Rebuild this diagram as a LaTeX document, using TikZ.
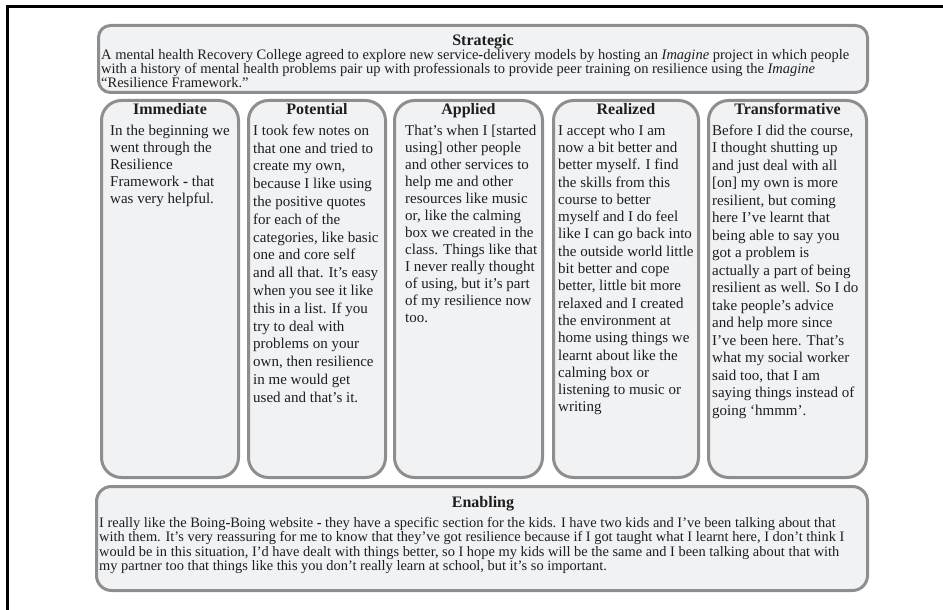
\documentclass[tikz,border=0pt]{standalone}
\usepackage{fontspec}
\setmainfont{Liberation Serif}
\usetikzlibrary{positioning}
\definecolor{ink}{HTML}{1E1E1E}
\definecolor{bord}{HTML}{8E8E8E}
\definecolor{boxf}{HTML}{F1F2F4}
\tikzset{
  pnl/.style={draw=bord,fill=boxf,line width=3pt,inner sep=0pt},
  colbox/.style={pnl,rounded corners=20pt,minimum height=377pt},
  head/.style={font=\fontsize{16}{18}\selectfont\bfseries,inner sep=0pt,anchor=base,text=ink},
  body/.style={font=\fontsize{15}{17}\selectfont,align=left,inner sep=0pt,anchor=north west,text=ink},
  wide/.style={body,font=\fontsize{14.5}{14}\selectfont}
}
\newcommand{\bdash}{{\bfseries -}}

\begin{document}
\begin{tikzpicture}[x=1pt,y=-1pt]
\useasboundingbox (0,0) rectangle (943,610);
% ---------------- frame ----------------
\draw[line width=3pt,black] (7,610) -- (7,7) -- (943,7);
% ---------------- strategic ----------------
\node[pnl,rounded corners=12pt,minimum width=769pt,minimum height=67pt] (strat) at (483,59) {};
\node[head] (strath) at (483,46) {Strategic};
\node[wide] (stratt) at (101,49) {A mental health Recovery College agreed to explore new service\bdash delivery models by hosting an \textit{Imagine} project in which people\\
with a history of mental health problems pair up with professionals to provide peer training on resilience using the \textit{Imagine}\\
“Resilience Framework.”};
% ---------------- columns ----------------
\node[colbox,minimum width=137pt] (imm) at (170,289) {};
\node[colbox,minimum width=137pt] (pot) at (317,289) {};
\node[colbox,minimum width=148pt] (app) at (468.5,289) {};
\node[colbox,minimum width=145pt] (rea) at (626,289) {};
\node[colbox,minimum width=158pt] (tra) at (787.5,289) {};
\node[head] (immh) at (170,114) {Immediate};
\node[head] (poth) at (317,114) {Potential};
\node[head] (apph) at (468.5,114) {Applied};
\node[head] (reah) at (626,114) {Realized};
\node[head] (trah) at (787.5,114) {Transformative};
\node[body] (immt) at (110,124.5) {In the beginning we\\went through the\\Resilience\\Framework \bdash{} that\\was very helpful.};
\node[body,font=\fontsize{15}{17.8}\selectfont] (pott) at (253,124.5) {I took few notes on\\that one and tried to\\create my own,\\because I like using\\the positive quotes\\for each of the\\categories, like basic\\one and core self\\and all that. It’s easy\\when you see it like\\this in a list. If you\\try to deal with\\problems on your\\own, then resilience\\in me would get\\used and that’s it.};
\node[body] (appt) at (405,124.5) {That’s when I [started\\using] other people\\and other services to\\help me and other\\resources like music\\or, like the calming\\box we created in the\\class. Things like that\\I never really thought\\of using, but it’s part\\of my resilience now\\too.};
\node[body,font=\fontsize{15}{17.3}\selectfont] (reat) at (558,124.5) {I accept who I am\\now a bit better and\\better myself. I find\\the skills from this\\course to better\\myself and I do feel\\like I can go back into\\the outside world little\\bit better and cope\\better, little bit more\\relaxed and I created\\the environment at\\home using things we\\learnt about like the\\calming box or\\listening to music or\\writing};
\node[body,font=\fontsize{15}{17.5}\selectfont] (trat) at (712,124.5) {Before I did the course,\\I thought shutting up\\and just deal with all\\{[}on{]} my own is more\\resilient, but coming\\here I’ve learnt that\\being able to say you\\got a problem is\\actually a part of being\\resilient as well. So I do\\take people’s advice\\and help more since\\I’ve been here. That’s\\what my social worker\\said too, that I am\\saying things instead of\\going ‘hmmm’.};
% ---------------- enabling ----------------
\node[pnl,rounded corners=15pt,minimum width=771pt,minimum height=104pt] (enab) at (482,538.5) {};
\node[head] (enabh) at (483,507) {Enabling};
\node[wide,font=\fontsize{14.4}{14.5}\selectfont] (enabt) at (99,517) {I really like the Boing\bdash Boing website \bdash{} they have a specific section for the kids. I have two kids and I’ve been talking about that\\
with them. It’s very reassuring for me to know that they’ve got resilience because if I got taught what I learnt here, I don’t think I\\
would be in this situation, I’d have dealt with things better, so I hope my kids will be the same and I been talking about that with\\
my partner too that things like this you don’t really learn at school, but it’s so important.};
\end{tikzpicture}
\end{document}
